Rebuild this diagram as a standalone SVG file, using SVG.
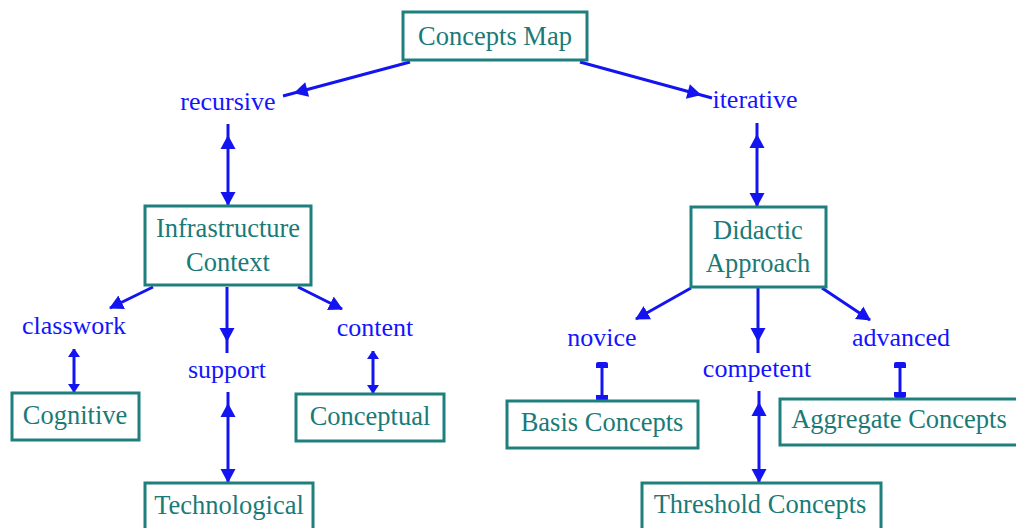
<svg xmlns="http://www.w3.org/2000/svg" width="1016" height="528" viewBox="0 0 1016 528">
<defs>
<style>
.box{fill:#fff;stroke:#1e7f7c;stroke-width:3}
.nt{font-family:"Liberation Serif",serif;font-size:26.5px;fill:#1a7a78;text-anchor:middle}
.lb{font-family:"Liberation Serif",serif;font-size:26px;fill:#1414ff;text-anchor:middle}
.c{stroke:#1414f0;stroke-width:3;fill:none}
</style>
<marker id="a" markerUnits="userSpaceOnUse" markerWidth="14" markerHeight="16" refX="13" refY="8" orient="auto-start-reverse"><path d="M0,0.5 L14,8 L0,15.5 z" fill="#1414f0"/></marker>
<marker id="ai" markerUnits="userSpaceOnUse" markerWidth="40" markerHeight="16" refX="25" refY="8" orient="auto-start-reverse" overflow="visible"><path d="M0,0.5 L14,8 L0,15.5 z" fill="#1414f0"/></marker>
<marker id="sa" markerUnits="userSpaceOnUse" markerWidth="9" markerHeight="14" refX="8" refY="7" orient="auto-start-reverse"><path d="M0,1 L6,5 Q8,7 6,9 L0,13 z" fill="#1414f0"/></marker>
<marker id="s" markerUnits="userSpaceOnUse" markerWidth="6" markerHeight="14" refX="5" refY="7" orient="auto-start-reverse"><path d="M0,1 L4,1 Q6,1 6,3 L6,11 Q6,13 4,13 L0,13 z" fill="#1414f0"/></marker>
</defs>
<rect width="1016" height="528" fill="#fff"/>
<g id="connectors">
<line class="c" x1="410" y1="62" x2="283" y2="96" marker-end="url(#ai)"/>
<line class="c" x1="580" y1="62" x2="712" y2="98" marker-end="url(#ai)"/>
<line class="c" x1="228" y1="124" x2="228" y2="205" marker-start="url(#ai)" marker-end="url(#a)"/>
<line class="c" x1="757" y1="123" x2="757" y2="206" marker-start="url(#ai)" marker-end="url(#a)"/>
<line class="c" x1="153" y1="287" x2="110" y2="308" marker-end="url(#a)"/>
<line class="c" x1="227" y1="287" x2="227" y2="353" marker-end="url(#ai)"/>
<line class="c" x1="298" y1="287" x2="342" y2="309" marker-end="url(#a)"/>
<line class="c" x1="74" y1="349" x2="74" y2="392" marker-start="url(#sa)" marker-end="url(#sa)"/>
<line class="c" x1="228" y1="392" x2="228" y2="482" marker-start="url(#ai)" marker-end="url(#a)"/>
<line class="c" x1="373" y1="351" x2="373" y2="393" marker-start="url(#sa)" marker-end="url(#sa)"/>
<line class="c" x1="691" y1="288" x2="636" y2="319" marker-end="url(#a)"/>
<line class="c" x1="758" y1="288" x2="758" y2="353" marker-end="url(#ai)"/>
<line class="c" x1="822" y1="288" x2="870" y2="320" marker-end="url(#a)"/>
<line class="c" x1="602" y1="363" x2="602" y2="400" marker-start="url(#s)" marker-end="url(#s)"/>
<line class="c" x1="759" y1="391" x2="759" y2="482" marker-start="url(#ai)" marker-end="url(#a)"/>
<line class="c" x1="900" y1="363" x2="900" y2="397" marker-start="url(#s)" marker-end="url(#s)"/>
</g>
<g id="labels">
<text class="lb" x="228" y="110">recursive</text>
<text class="lb" x="755" y="108">iterative</text>
<text class="lb" x="74" y="334">classwork</text>
<text class="lb" x="227" y="378">support</text>
<text class="lb" x="375" y="336">content</text>
<text class="lb" x="602" y="346">novice</text>
<text class="lb" x="757" y="377">competent</text>
<text class="lb" x="901" y="346">advanced</text>
</g>
<g id="n-concepts-map"><rect class="box" x="403" y="12" width="184" height="48"/><text class="nt" x="495" y="45">Concepts Map</text></g>
<g id="n-infrastructure"><rect class="box" x="145" y="206" width="166" height="79"/><text class="nt" x="228" y="237">Infrastructure</text><text class="nt" x="228" y="271">Context</text></g>
<g id="n-didactic"><rect class="box" x="691" y="207" width="135" height="80"/><text class="nt" x="758" y="239">Didactic</text><text class="nt" x="758" y="272">Approach</text></g>
<g id="n-cognitive"><rect class="box" x="12" y="393" width="127" height="47"/><text class="nt" x="75" y="424">Cognitive</text></g>
<g id="n-technological"><rect class="box" x="145" y="483" width="168" height="60"/><text class="nt" x="229" y="514">Technological</text></g>
<g id="n-conceptual"><rect class="box" x="296" y="394" width="148" height="47"/><text class="nt" x="370" y="425">Conceptual</text></g>
<g id="n-basis"><rect class="box" x="507" y="401" width="191" height="47"/><text class="nt" x="602" y="431">Basis Concepts</text></g>
<g id="n-threshold"><rect class="box" x="642" y="483" width="239" height="60"/><text class="nt" x="760" y="513">Threshold Concepts</text></g>
<g id="n-aggregate"><rect class="box" x="780" y="399" width="250" height="46"/><text class="nt" x="899" y="428">Aggregate Concepts</text></g>
</svg>
